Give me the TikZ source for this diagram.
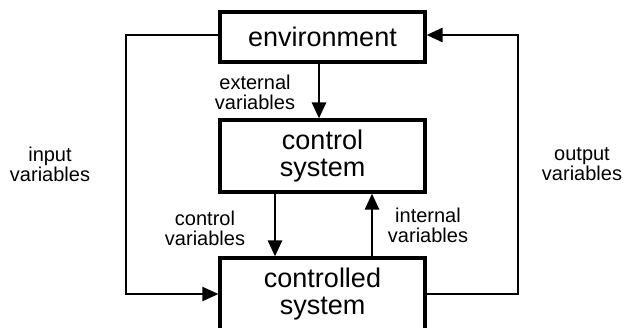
\documentclass[tikz,border=0pt]{standalone}
\usepackage{fontspec}
\setmainfont{Liberation Sans}
\usetikzlibrary{arrows.meta}

\tikzset{
  block/.style={draw, line width=3.2pt, minimum width=205pt, inner sep=0pt,
    align=center, font=\fontsize{27}{27.5}\selectfont},
  lbl/.style={align=center, inner sep=0pt, font=\fontsize{20}{20}\selectfont},
  arr/.style={line width=2.7pt, -{Triangle[length=16pt,width=14pt]}},
}

\begin{document}
\begin{tikzpicture}[x=1pt, y=-1pt]
  \clip (0,0) rectangle (623,327);

  % the three blocks
  \node[block, minimum height=50pt] (env) at (322.5,37) {environment};
  \node[block, minimum height=72pt] (ctl) at (322.5,156) {control\\system};
  \node[block, minimum height=72pt] (plant) at (322.5,294) {controlled\\system};

  % corners of the outer loops
  \coordinate (lc) at (126,35);
  \coordinate (rc) at (518,35);

  % vertical signal paths
  \draw[arr] ([xshift=-3.5pt]env.south) -- ([xshift=-3.5pt]ctl.north);
  \draw[arr] ([xshift=-47.5pt]ctl.south) -- ([xshift=-47.5pt]plant.north);
  \draw[arr] ([xshift=49.5pt]plant.north) -- ([xshift=49.5pt]ctl.south);

  % outer loops
  \draw[arr, line width=2pt] (env.west |- lc) -- (lc) |- (plant.west);
  \draw[arr] (plant.east) -| (rc) -- (env.east |- rc);

  % labels
  \node[lbl] (inv) at (50,164) {input\\variables};
  \node[lbl] (outv) at (582,164) {output\\variables};
  \node[lbl] (extv) at (255,92) {external\\variables};
  \node[lbl] (ctlv) at (205,228) {control\\variables};
  \node[lbl] (intv) at (428,225) {internal\\variables};
\end{tikzpicture}
\end{document}
